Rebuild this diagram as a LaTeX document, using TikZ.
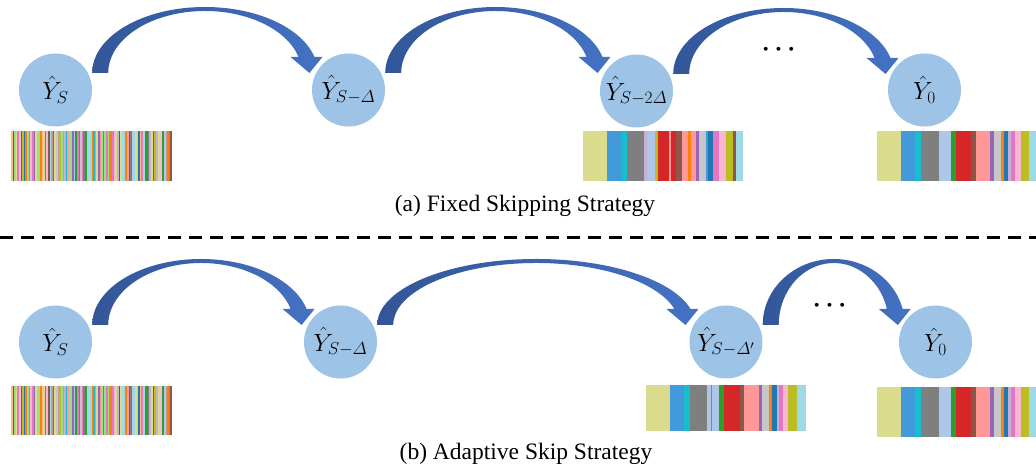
\documentclass[tikz,border=0pt]{standalone}
\usepackage{amsmath}
\usepackage{fontspec}
\setmainfont{Liberation Serif}
\usetikzlibrary{calc}
\definecolor{tab0}{HTML}{1F77B4}
\definecolor{tab1}{HTML}{AEC7E8}
\definecolor{tab2}{HTML}{FF7F0E}
\definecolor{tab3}{HTML}{FFBB78}
\definecolor{tab4}{HTML}{2CA02C}
\definecolor{tab5}{HTML}{98DF8A}
\definecolor{tab6}{HTML}{D62728}
\definecolor{tab7}{HTML}{FF9896}
\definecolor{tab8}{HTML}{9467BD}
\definecolor{tab9}{HTML}{C5B0D5}
\definecolor{tab10}{HTML}{8C564B}
\definecolor{tab11}{HTML}{C49C94}
\definecolor{tab12}{HTML}{E377C2}
\definecolor{tab13}{HTML}{F7B6D2}
\definecolor{tab14}{HTML}{7F7F7F}
\definecolor{tab15}{HTML}{C7C7C7}
\definecolor{tab16}{HTML}{BCBD22}
\definecolor{tab17}{HTML}{DBDB8D}
\definecolor{tab18}{HTML}{17BECF}
\definecolor{tab19}{HTML}{9EDAE5}
\definecolor{bluem}{RGB}{66,154,219}
\definecolor{nodeblue}{RGB}{157,195,230}
\definecolor{arrL}{RGB}{50,86,152}
\definecolor{arrM}{RGB}{118,150,214}
\definecolor{arrR}{RGB}{68,114,196}
\newcommand\blockarc[2]{%
  \path[arrowshade] let \p1=(#1.east), \p2=(#2.west),
    \n1={\x1}, \n2={\x2}, \n5={\y1+17pt},
    \n3={(\x1+\x2)/2+3pt}, \n4={\n3-\n1},
    \n6={\n3+0.966*(\n4-16pt)}, \n7={\n3+0.970*\n4},
    \n8={\n4-16pt}
  in (\n1,\n5) arc[start angle=180, end angle=14.04, x radius=\n4, y radius=66pt]
  -- ({\n7+8pt},{\n5+16pt}) -- ({(\n6+\n7)/2+3pt},\n5) -- ({\n6-8pt},{\n5+16pt}) -- (\n6,{\n5+16pt})
  arc[start angle=14.96, end angle=180, x radius=\n8, y radius=62pt] -- cycle;}
\newcommand\densebar[2]{%
  \pgfmathsetseed{23}%
  \foreach \i in {0,...,99} {%
    \pgfmathrandominteger{\k}{0}{19}%
    \fill[tab\k] ({11+\i*1.61},#1) rectangle ({11+(\i+1)*1.61+0.3},#2);
  }}
\begin{document}
\begin{tikzpicture}[x=1pt,y=1pt,
  ynode/.style={circle, fill=nodeblue, minimum size=73pt, inner sep=0pt,
    font=\fontsize{25}{29}\selectfont},
  arrowshade/.style={left color=arrL, middle color=arrM, right color=arrR},
  caption/.style={font=\fontsize{23.5}{28}\selectfont, anchor=base, inner sep=0pt},
  dotsnode/.style={font=\fontsize{30}{32}\selectfont, inner sep=0pt},
  sepline/.style={line width=3pt, dash pattern=on 13pt off 8pt}]
\useasboundingbox (0,0) rectangle (1036,470);
% top row
\node[ynode] (ys) at (55.5,380) {$\hat{Y}_{S}$};
\node[ynode] (ysd) at (348.5,380) {$\hat{Y}_{S-\varDelta}$};
\node[ynode] (ys2d) at (636.5,379) {$\hat{Y}_{S-2\varDelta}$};
\node[ynode] (y0a) at (924.5,380) {$\hat{Y}_{0}$};
\blockarc{ys}{ysd}
\blockarc{ysd}{ys2d}
\blockarc{ys2d}{y0a}
\node[dotsnode] (dotsa) at (781,420) {$\boldsymbol{\cdots}$};
% top bars
\densebar{289}{339}
\foreach \a/\b/\c in {583/607/tab17, 607/622/bluem, 622/627/tab18, 627/644/tab14,
  644/647/tab9, 647/655/tab1, 655/658/tab16, 658/669/tab6, 669/671/tab7, 671/676/tab6,
  676/682/tab10, 682/688/tab7, 688/691/tab2, 691/696/tab7, 696/699/tab8, 699/706/tab15,
  706/708/bluem, 708/713/tab0, 713/719/tab12, 719/726/tab13, 726/733/tab16, 733/736/tab10,
  736/743/tab19}
  {\fill[\c] (\a,289) rectangle ({\b+0.3},339);}
\foreach \a/\b/\c in {877/901/tab17, 901/915/bluem, 915/921/tab18, 921/939/tab14,
  939/951/tab1, 951/956/tab4, 956/971/tab6, 971/976/tab10, 976/990/tab7, 990/994/tab8,
  994/1001/tab15, 1001/1004/tab2, 1004/1008/tab0, 1008/1011/tab9, 1011/1015/tab12,
  1015/1021/tab13, 1021/1029/tab16, 1029/1036/tab19}
  {\fill[\c] (\a,289) rectangle ({\b+0.3},339);}
\node[caption] (capa) at (525,258) {(a) Fixed Skipping Strategy};
% separator
\coordinate (sepL) at (0,232);
\coordinate (sepR) at (1036,232);
\draw[sepline] (sepL) -- (sepR);
% bottom row
\node[ynode] (ysb) at (55.5,128) {$\hat{Y}_{S}$};
\node[ynode] (ysdb) at (340.5,128) {$\hat{Y}_{S-\varDelta}$};
\node[ynode] (ysdp) at (726,128) {$\hat{Y}_{S-\varDelta'}$};
\node[ynode] (y0b) at (935.5,128) {$\hat{Y}_{0}$};
\blockarc{ysb}{ysdb}
\blockarc{ysdb}{ysdp}
\blockarc{ysdp}{y0b}
\node[dotsnode] (dotsb) at (832,164) {$\boldsymbol{\cdots}$};
% bottom bars
\densebar{35}{84}
\foreach \a/\b/\c in {646/670/tab17, 670/684/bluem, 684/690/tab18, 690/707/tab14,
  707/711/tab1, 711/712/bluem, 712/719/tab1, 719/724/tab4, 724/740/tab6, 740/744/tab10,
  744/759/tab7, 759/762/tab8, 762/769/tab15, 769/772/tab2, 772/777/tab0, 777/779/tab9,
  779/783/tab12, 783/788/tab13, 788/797/tab16, 797/806/tab19}
  {\fill[\c] (\a,39) rectangle ({\b+0.3},85);}
\foreach \a/\b/\c in {877/901/tab17, 901/915/bluem, 915/921/tab18, 921/939/tab14,
  939/951/tab1, 951/956/tab4, 956/971/tab6, 971/976/tab10, 976/990/tab7, 990/994/tab8,
  994/1001/tab15, 1001/1004/tab2, 1004/1008/tab0, 1008/1011/tab9, 1011/1015/tab12,
  1015/1021/tab13, 1021/1029/tab16, 1029/1036/tab19}
  {\fill[\c] (\a,33) rectangle ({\b+0.3},83);}
\node[caption] (capb) at (526,10) {(b) Adaptive Skip Strategy};
\end{tikzpicture}
\end{document}
